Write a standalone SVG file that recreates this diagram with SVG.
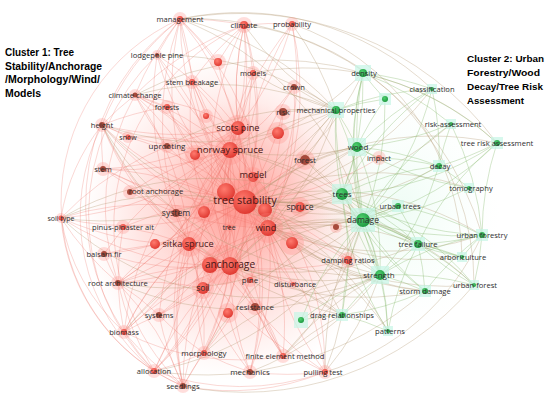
<svg xmlns="http://www.w3.org/2000/svg" width="550" height="396" viewBox="0 0 550 396">
<defs>
<radialGradient id="rg" cx="40%" cy="35%" r="65%"><stop offset="0" stop-color="#ff7a6e"/><stop offset="1" stop-color="#e03a32"/></radialGradient>
<radialGradient id="gg" cx="40%" cy="35%" r="65%"><stop offset="0" stop-color="#4fcf6e"/><stop offset="1" stop-color="#1e9a40"/></radialGradient>
<radialGradient id="bgr" cx="50%" cy="50%" r="50%"><stop offset="0" stop-color="#ff8a80" stop-opacity=".6"/><stop offset=".6" stop-color="#ffa8a0" stop-opacity=".32"/><stop offset="1" stop-color="#ffc8c0" stop-opacity="0"/></radialGradient>
<radialGradient id="bgg" cx="50%" cy="50%" r="50%"><stop offset="0" stop-color="#c8f5dc" stop-opacity=".3"/><stop offset="1" stop-color="#e8fff4" stop-opacity="0"/></radialGradient>
<style>
.er{fill:none;stroke:#ec6c62;stroke-width:.6;stroke-opacity:.45}
.eb{fill:none;stroke:#b0946a;stroke-width:.6;stroke-opacity:.55}
.eg{fill:none;stroke:#86b86c;stroke-width:.6;stroke-opacity:.6}
.nr{fill:url(#rg)}
.nb{fill:#a84a3c}
.ng{fill:url(#gg)}
.hr{fill:#ff8a80;opacity:.28}
.hg{fill:#c6f5e6;opacity:.7}
.l{font-family:"Open Sans","Liberation Sans",sans-serif;fill:#2e2e2e;text-anchor:middle}
.L{font-family:"Open Sans","Liberation Sans",sans-serif;fill:#481616;text-anchor:middle}
.t{font-family:"Liberation Sans",Arial,sans-serif;font-weight:bold;font-size:11px;fill:#000}
.t2{font-family:"Liberation Sans",Arial,sans-serif;font-weight:bold;font-size:9.6px;fill:#000}
</style>
</defs>
<rect width="550" height="396" fill="#fff"/>
<ellipse cx="232" cy="215" rx="150" ry="165" fill="url(#bgr)"/>
<ellipse cx="240" cy="200" rx="90" ry="100" fill="url(#bgr)"/>
<ellipse cx="400" cy="210" rx="100" ry="120" fill="url(#bgg)"/>

<g id="connectors">
<path class="er" d="M245 202A300 300 0 0 1 180 19M245 202A300 300 0 0 0 244 25M245 202A300 300 0 0 1 292 24M245 202A300 300 0 0 1 157 55M245 202A300 300 0 0 0 253 73M245 202A300 300 0 0 1 192 82M245 202A300 300 0 0 0 135 95M245 202A300 300 0 0 1 167 107M245 202A300 300 0 0 1 102 125M245 202A300 300 0 0 0 128 137M245 202A300 300 0 0 1 167 146M245 202A300 300 0 0 1 103 169M245 202A300 300 0 0 0 130 192M245 202A300 300 0 0 1 61 218M245 202A300 300 0 0 0 123 227M245 202A300 300 0 0 1 104 254M245 202A300 300 0 0 0 118 283M245 202A300 300 0 0 1 159 315M245 202A300 300 0 0 0 124 332M245 202A300 300 0 0 1 204 353M245 202A300 300 0 0 1 154 371M245 202A300 300 0 0 0 183 386M245 202A300 300 0 0 1 250 372M245 202A300 300 0 0 0 283 356M245 202A300 300 0 0 1 325 372M245 202A300 300 0 0 0 293 284M245 202A300 300 0 0 1 348 260M245 202A300 300 0 0 0 379 158M245 202A300 300 0 0 1 305 160M245 202A300 300 0 0 0 283 112M245 202A300 300 0 0 1 294 87"/>
<path class="eb" d="M245 202A300 300 0 0 1 336 110M245 202A300 300 0 0 0 363 73M245 202A300 300 0 0 1 357 147M245 202A300 300 0 0 0 342 194M245 202A300 300 0 0 1 363 220M245 202A300 300 0 0 0 398 206M245 202A300 300 0 0 1 418 244M245 202A300 300 0 0 0 380 275M245 202A300 300 0 0 1 342 315M245 202A300 300 0 0 0 425 291M245 202A300 300 0 0 1 388 331M245 202A300 300 0 0 0 439 166M245 202A300 300 0 0 1 469 188M245 202A300 300 0 0 0 432 89M245 202A300 300 0 0 1 482 235M245 202A300 300 0 0 0 462 257M245 202A300 300 0 0 1 497 143M245 202A300 300 0 0 0 451 124M245 202A300 300 0 0 1 474 285"/>
<path class="er" d="M230 266A300 300 0 0 1 180 19M230 266A300 300 0 0 1 244 25M230 266A300 300 0 0 0 157 55M230 266A300 300 0 0 1 192 82M230 266A300 300 0 0 0 135 95M230 266A300 300 0 0 1 102 125M230 266A300 300 0 0 0 103 169M230 266A300 300 0 0 1 61 218M230 266A300 300 0 0 0 123 227M230 266A300 300 0 0 1 104 254M230 266A300 300 0 0 0 118 283M230 266A300 300 0 0 1 159 315M230 266A300 300 0 0 0 124 332M230 266A300 300 0 0 1 204 353M230 266A300 300 0 0 0 154 371M230 266A300 300 0 0 1 183 386M230 266A300 300 0 0 0 250 372M230 266A300 300 0 0 1 283 356M230 266A300 300 0 0 0 325 372M230 266A300 300 0 0 1 293 284M230 266A300 300 0 0 0 348 260M230 266A300 300 0 0 1 238 128M230 266A300 300 0 0 0 230 150M230 266A300 300 0 0 1 189 244M230 266A300 300 0 0 0 203 288M230 266A300 300 0 0 1 255 307M230 266A300 300 0 0 1 305 160M230 266A300 300 0 0 0 283 112M230 266A300 300 0 0 1 253 73M230 266A300 300 0 0 0 292 24"/>
<path class="eb" d="M230 266A300 300 0 0 1 363 220M230 266A300 300 0 0 0 380 275M230 266A300 300 0 0 1 342 315M230 266A300 300 0 0 0 418 244M230 266A300 300 0 0 1 342 194M230 266A300 300 0 0 0 425 291M230 266A300 300 0 0 1 357 147M230 266A300 300 0 0 0 336 110"/>
<path class="er" d="M268 228A300 300 0 0 0 180 19M268 228A300 300 0 0 1 244 25M268 228A300 300 0 0 0 292 24M268 228A300 300 0 0 1 253 73M268 228A300 300 0 0 0 192 82M268 228A300 300 0 0 1 167 107M268 228A300 300 0 0 0 135 95M268 228A300 300 0 0 1 102 125M268 228A300 300 0 0 0 61 218M268 228A300 300 0 0 1 118 283M268 228A300 300 0 0 0 124 332M268 228A300 300 0 0 1 204 353M268 228A300 300 0 0 0 183 386M268 228A300 300 0 0 1 283 356M268 228A300 300 0 0 0 325 372M268 228A300 300 0 0 1 250 372M268 228A300 300 0 0 0 293 284M268 228A300 300 0 0 1 348 260M268 228A300 300 0 0 0 294 87M268 228A300 300 0 0 1 130 192M268 228A300 300 0 0 0 103 169"/>
<path class="eb" d="M268 228A300 300 0 0 1 363 220M268 228A300 300 0 0 0 342 194M268 228A300 300 0 0 1 380 275M268 228A300 300 0 0 0 425 291M268 228A300 300 0 0 1 418 244M268 228A300 300 0 0 0 398 206M268 228A300 300 0 0 1 357 147M268 228A300 300 0 0 0 342 315M268 228A300 300 0 0 1 388 331M268 228A300 300 0 0 0 482 235M268 228A300 300 0 0 1 336 110M268 228A300 300 0 0 0 474 285"/>
<path class="er" d="M230 150A300 300 0 0 1 180 19M230 150A300 300 0 0 0 244 25M230 150A300 300 0 0 1 157 55M230 150A300 300 0 0 0 253 73M230 150A300 300 0 0 1 192 82M230 150A300 300 0 0 0 135 95M230 150A300 300 0 0 1 102 125M230 150A300 300 0 0 0 128 137M230 150A300 300 0 0 1 103 169M230 150A300 300 0 0 0 130 192M230 150A300 300 0 0 1 61 218M230 150A300 300 0 0 0 104 254M230 150A300 300 0 0 1 118 283M230 150A300 300 0 0 0 159 315M230 150A300 300 0 0 1 124 332M230 150A300 300 0 0 0 204 353M230 150A300 300 0 0 1 154 371M230 150A300 300 0 0 0 183 386M230 150A300 300 0 0 1 250 372M230 150A300 300 0 0 0 283 356M230 150A300 300 0 0 1 325 372M230 150A300 300 0 0 0 294 87M230 150A300 300 0 0 1 292 24"/>
<path class="eb" d="M230 150A300 300 0 0 1 336 110M230 150A300 300 0 0 0 357 147M230 150A300 300 0 0 1 363 220M230 150A300 300 0 0 0 363 73M230 150A300 300 0 0 1 342 194"/>
<path class="er" d="M238 128A300 300 0 0 0 180 19M238 128A300 300 0 0 1 244 25M238 128A300 300 0 0 0 157 55M238 128A300 300 0 0 1 218 62M238 128A300 300 0 0 0 135 95M238 128A300 300 0 0 1 102 125M238 128A300 300 0 0 0 61 218M238 128A300 300 0 0 1 118 283M238 128A300 300 0 0 0 124 332M238 128A300 300 0 0 1 154 371M238 128A300 300 0 0 0 183 386M238 128A300 300 0 0 1 204 353M238 128A300 300 0 0 0 292 24M238 128A300 300 0 0 1 103 169"/>
<path class="er" d="M189 244A300 300 0 0 1 180 19M189 244A300 300 0 0 0 244 25M189 244A300 300 0 0 1 157 55M189 244A300 300 0 0 0 135 95M189 244A300 300 0 0 1 102 125M189 244A300 300 0 0 0 103 169M189 244A300 300 0 0 1 61 218M189 244A300 300 0 0 0 104 254M189 244A300 300 0 0 1 118 283M189 244A300 300 0 0 0 124 332M189 244A300 300 0 0 1 154 371M189 244A300 300 0 0 0 183 386M189 244A300 300 0 0 1 204 353M189 244A300 300 0 0 0 250 372M189 244A300 300 0 0 1 283 356M189 244A300 300 0 0 0 325 372"/>
<path class="er" d="M118 283A300 300 0 0 1 61 218M118 283A300 300 0 0 0 124 332M118 283A300 300 0 0 0 154 371M118 283A300 300 0 0 1 183 386M118 283A300 300 0 0 1 159 315M118 283A300 300 0 0 1 203 288M118 283A300 300 0 0 1 104 254M118 283A300 300 0 0 1 123 227M124 332A300 300 0 0 0 154 371M124 332A300 300 0 0 0 183 386M124 332A300 300 0 0 1 159 315M124 332A200 200 0 0 1 61 218M180 19A300 300 0 0 0 157 55M180 19A300 300 0 0 0 135 95M180 19A250 250 0 0 0 102 125M180 19A300 300 0 0 1 244 25M180 19A300 300 0 0 1 218 62M180 19A300 300 0 0 1 192 82M244 25A300 300 0 0 0 218 62M244 25A300 300 0 0 1 253 73M244 25A300 300 0 0 1 292 24M244 25A300 300 0 0 0 192 82M244 25A300 300 0 0 0 135 95M102 125A300 300 0 0 1 128 137M102 125A300 300 0 0 0 103 169M102 125A200 200 0 0 0 61 218M102 125A300 300 0 0 1 135 95M102 125A300 300 0 0 1 167 107M204 353A300 300 0 0 1 154 371M204 353A300 300 0 0 0 183 386M204 353A300 300 0 0 0 250 372M204 353A300 300 0 0 1 159 315M159 315A300 300 0 0 0 183 386M159 315A300 300 0 0 1 203 288M250 372A300 300 0 0 0 325 372M250 372A300 300 0 0 1 228 313M283 356A300 300 0 0 1 255 307M135 95A300 300 0 0 1 167 107M135 95A300 300 0 0 0 167 146M167 146A300 300 0 0 1 195 155M192 82A300 300 0 0 1 206 116"/>
<path class="er" d="M180 19A200 200 0 0 0 183 386M157 55A220 220 0 0 0 154 371M180 19A230 230 0 0 0 124 332M244 25A220 220 0 0 0 183 386M102 125A200 200 0 0 0 154 371M61 218A200 200 0 0 0 183 386M183 386A250 250 0 0 0 325 372M124 332A250 250 0 0 0 283 356M154 371A250 250 0 0 0 325 372M135 95A230 230 0 0 0 118 283"/>
<path class="eb" d="M180 19A300 300 0 0 1 482 235M244 25A260 260 0 0 1 474 285M292 24A250 250 0 0 1 462 257M183 386A300 300 0 0 0 474 285M253 73A280 280 0 0 1 497 143M180 19A320 320 0 0 1 497 143M325 372A250 250 0 0 0 482 235M61 218A300 300 0 0 0 380 275M102 125A350 350 0 0 0 342 315M180 19A280 280 0 0 1 432 89M135 95A300 300 0 0 1 363 73M157 55A300 300 0 0 1 336 110M154 371A330 330 0 0 0 425 291"/>
<path class="eg" d="M363 220A300 300 0 0 1 363 73M363 220A300 300 0 0 0 336 110M363 220A300 300 0 0 1 357 147M363 220A300 300 0 0 0 432 89M363 220A300 300 0 0 1 451 124M363 220A300 300 0 0 0 497 143M363 220A300 300 0 0 1 439 166M363 220A300 300 0 0 0 469 188M363 220A300 300 0 0 1 398 206M363 220A300 300 0 0 0 482 235M363 220A300 300 0 0 1 418 244M363 220A300 300 0 0 0 462 257M363 220A300 300 0 0 1 474 285M363 220A300 300 0 0 0 425 291M363 220A300 300 0 0 1 380 275M363 220A300 300 0 0 0 342 315M363 220A300 300 0 0 1 388 331M363 220A300 300 0 0 0 301 320M363 220A300 300 0 0 1 342 194M363 220A300 300 0 0 0 385 99"/>
<path class="eg" d="M342 194A300 300 0 0 0 363 73M342 194A300 300 0 0 1 336 110M342 194A300 300 0 0 0 357 147M342 194A300 300 0 0 1 432 89M342 194A300 300 0 0 0 497 143M342 194A300 300 0 0 1 439 166M342 194A300 300 0 0 0 482 235M342 194A300 300 0 0 1 418 244M342 194A300 300 0 0 0 462 257M342 194A300 300 0 0 1 474 285M342 194A300 300 0 0 0 425 291M342 194A300 300 0 0 1 380 275M342 194A300 300 0 0 0 388 331M342 194A300 300 0 0 1 342 315"/>
<path class="eg" d="M380 275A300 300 0 0 1 336 110M380 275A300 300 0 0 0 357 147M380 275A300 300 0 0 1 363 73M380 275A300 300 0 0 0 439 166M380 275A300 300 0 0 1 482 235M380 275A300 300 0 0 0 418 244M380 275A300 300 0 0 1 425 291M380 275A300 300 0 0 0 342 315M380 275A300 300 0 0 1 388 331M380 275A300 300 0 0 0 301 320M380 275A300 300 0 0 1 474 285M357 147A300 300 0 0 1 363 73M357 147A300 300 0 0 0 336 110M357 147A300 300 0 0 1 432 89M357 147A300 300 0 0 0 451 124M357 147A300 300 0 0 1 439 166M357 147A300 300 0 0 0 469 188M357 147A300 300 0 0 1 385 99M357 147A300 300 0 0 0 379 158"/>
<path class="eg" d="M482 235A300 300 0 0 0 398 206M482 235A300 300 0 0 1 418 244M482 235A300 300 0 0 0 462 257M482 235A300 300 0 0 1 474 285M482 235A300 300 0 0 0 425 291M482 235A300 300 0 0 1 497 143M482 235A300 300 0 0 0 451 124M418 244A300 300 0 0 1 462 257M418 244A300 300 0 0 0 474 285M418 244A300 300 0 0 1 425 291M418 244A300 300 0 0 0 398 206M418 244A300 300 0 0 1 497 143M418 244A300 300 0 0 0 388 331M439 166A300 300 0 0 0 379 158M439 166A300 300 0 0 1 469 188M439 166A300 300 0 0 0 497 143M439 166A300 300 0 0 1 451 124M439 166A300 300 0 0 0 432 89M342 315A300 300 0 0 0 301 320M342 315A300 300 0 0 1 388 331M342 315A300 300 0 0 0 425 291M363 73A300 300 0 0 1 432 89M363 73A300 300 0 0 1 451 124M363 73A300 300 0 0 1 497 143M363 73A300 300 0 0 0 385 99M336 110A300 300 0 0 1 385 99M336 110A300 300 0 0 1 432 89"/>
<path class="eb" d="M342 315A300 300 0 0 1 293 284M342 315A300 300 0 0 0 283 356M342 315A300 300 0 0 1 325 372M336 110A300 300 0 0 0 180 19M336 110A300 300 0 0 1 244 25M336 110A300 300 0 0 0 292 24M336 110A300 300 0 0 1 253 73M336 110A300 300 0 0 0 135 95M336 110A300 300 0 0 1 102 125M336 110A300 300 0 0 0 167 146M336 110A300 300 0 0 1 61 218M336 110A300 300 0 0 0 283 112M336 110A300 300 0 0 1 294 87M363 220A300 300 0 0 0 180 19M363 220A300 300 0 0 1 102 125M363 220A300 300 0 0 0 61 218M363 220A300 300 0 0 1 118 283M363 220A300 300 0 0 0 124 332M363 220A300 300 0 0 1 154 371M363 220A300 300 0 0 0 204 353M363 220A300 300 0 0 1 283 356M363 220A300 300 0 0 0 325 372M380 275A300 300 0 0 1 102 125M380 275A300 300 0 0 0 61 218M380 275A300 300 0 0 1 118 283M380 275A300 300 0 0 0 204 353M380 275A300 300 0 0 1 325 372M380 275A300 300 0 0 0 283 356M380 275A300 300 0 0 1 250 372M305 160A300 300 0 0 1 357 147M305 160A300 300 0 0 0 336 110M305 160A300 300 0 0 1 363 220M305 160A300 300 0 0 0 342 194"/>
</g>

<g id="n-management"><circle class="hr" cx="180" cy="19" r="7"/><circle class="nr" cx="180" cy="19" r="3"/><text class="l" x="180" y="21.7" font-size="7.6">management</text></g>
<g id="n-climate"><circle class="hr" cx="244" cy="25" r="8"/><circle class="nr" cx="244" cy="25" r="4"/><text class="l" x="244" y="27.8" font-size="8">climate</text></g>
<g id="n-probability"><circle class="hr" cx="292" cy="24" r="7"/><circle class="nr" cx="292" cy="24" r="3"/><text class="l" x="292" y="26.7" font-size="7.6">probability</text></g>
<g id="n-lodgepole-pine"><circle class="hr" cx="157" cy="55" r="5"/><circle class="nb" cx="157" cy="55" r="2"/><text class="l" x="157" y="57.7" font-size="7.6">lodgepole pine</text></g>
<g id="n-u1"><circle class="hr" cx="218" cy="62" r="8"/><circle class="nr" cx="218" cy="62" r="4"/></g>
<g id="n-models"><circle class="hr" cx="253" cy="73" r="7"/><circle class="nr" cx="253" cy="73" r="3"/><text class="l" x="253" y="75.7" font-size="7.6">models</text></g>
<g id="n-stem-breakage"><circle class="hr" cx="192" cy="82" r="7"/><circle class="nr" cx="192" cy="82" r="3"/><text class="l" x="192" y="84.7" font-size="7.6">stem breakage</text></g>
<g id="n-climate-change"><circle class="hr" cx="135" cy="95" r="6"/><circle class="nb" cx="135" cy="95" r="2.5"/><text class="l" x="135" y="97.7" font-size="7.6">climate change</text></g>
<g id="n-forests"><circle class="hr" cx="167" cy="107" r="7"/><circle class="nr" cx="167" cy="107" r="3"/><text class="l" x="167" y="109.7" font-size="7.6">forests</text></g>
<g id="n-u2"><circle class="hr" cx="206" cy="116" r="7"/><circle class="nr" cx="206" cy="116" r="3"/></g>
<g id="n-height"><circle class="hr" cx="102" cy="125" r="7"/><circle class="nb" cx="102" cy="125" r="3"/><text class="l" x="102" y="127.7" font-size="7.6">height</text></g>
<g id="n-snow"><circle class="hr" cx="128" cy="137" r="6"/><circle class="nr" cx="128" cy="137" r="2.5"/><text class="l" x="128" y="139.5" font-size="7">snow</text></g>
<g id="n-uprooting"><circle class="hr" cx="167" cy="146" r="7"/><circle class="nb" cx="167" cy="146" r="3"/><text class="l" x="167" y="148.8" font-size="8">uprooting</text></g>
<g id="n-u3"><circle class="hr" cx="195" cy="155" r="10"/><circle class="nr" cx="195" cy="155" r="5"/></g>
<g id="n-scots-pine"><circle class="hr" cx="238" cy="128" r="13"/><circle class="nr" cx="238" cy="128" r="7"/><text class="L" x="238" y="131.2" font-size="9.2">scots pine</text></g>
<g id="n-norway-spruce"><circle class="hr" cx="230" cy="150" r="15"/><circle class="nr" cx="230" cy="150" r="8"/><text class="L" x="230" y="153.4" font-size="9.7">norway spruce</text></g>
<g id="n-risk"><circle class="hr" cx="283" cy="112" r="8"/><circle class="nb" cx="283" cy="112" r="4"/><text class="l" x="283" y="114.8" font-size="8">risk</text></g>
<g id="n-u4"><circle class="hr" cx="278" cy="133" r="11"/><circle class="nr" cx="278" cy="133" r="6"/></g>
<g id="n-crown"><circle class="hr" cx="294" cy="87" r="7"/><circle class="nb" cx="294" cy="87" r="3"/><text class="l" x="294" y="89.7" font-size="7.6">crown</text></g>
<g id="n-forest"><circle class="hr" cx="305" cy="160" r="10"/><circle class="nb" cx="305" cy="160" r="5"/><text class="l" x="305" y="162.8" font-size="8">forest</text></g>
<g id="n-model"><circle class="hr" cx="253" cy="177" r="10"/><circle class="nr" cx="253" cy="177" r="5"/><text class="L" x="253" y="178.2" font-size="9.2">model</text></g>
<g id="n-tree-stability"><circle class="hr" cx="245" cy="202" r="24"/><circle class="nr" cx="226" cy="192" r="9"/><circle class="nr" cx="265" cy="210" r="7"/><circle class="nr" cx="245" cy="202" r="12"/><text class="L" x="245" y="204" font-size="11">tree stability</text></g>
<g id="n-spruce"><circle class="hr" cx="300" cy="207" r="10"/><circle class="nr" cx="300" cy="207" r="5"/><text class="l" x="300" y="210" font-size="8.6">spruce</text></g>
<g id="n-u5"><circle class="hr" cx="336" cy="227" r="6"/><circle class="nb" cx="336" cy="227" r="3"/></g>
<g id="n-wind"><circle class="hr" cx="268" cy="228" r="15"/><circle class="nr" cx="268" cy="228" r="8"/><text class="L" x="266" y="231.2" font-size="9.2">wind</text></g>
<g id="n-u6"><circle class="hr" cx="292" cy="243" r="12"/><circle class="nr" cx="292" cy="243" r="6"/></g>
<g id="n-tree"><circle class="hr" cx="229" cy="227" r="5"/><circle class="nr" cx="229" cy="227" r="2"/><text class="l" x="229" y="229.5" font-size="7">tree</text></g>
<g id="n-system"><circle class="hr" cx="176" cy="213" r="8"/><circle class="nb" cx="176" cy="213" r="4"/><text class="l" x="176" y="216" font-size="8.6">system</text></g>
<g id="n-u7"><circle class="hr" cx="204" cy="212" r="11"/><circle class="nr" cx="204" cy="212" r="6"/></g>
<g id="n-pinus-pinaster-ait"><circle class="hr" cx="123" cy="227" r="7"/><circle class="nr" cx="123" cy="227" r="3"/><text class="l" x="123" y="229.7" font-size="7.6">pinus-pinaster ait</text></g>
<g id="n-soil-type"><circle class="hr" cx="61" cy="218" r="5"/><circle class="nr" cx="61" cy="218" r="2.5"/><text class="l" x="61" y="220.5" font-size="7">soil type</text></g>
<g id="n-stem"><circle class="hr" cx="103" cy="169" r="7"/><circle class="nb" cx="103" cy="169" r="3"/><text class="l" x="103" y="171.7" font-size="7.6">stem</text></g>
<g id="n-root-anchorage"><circle class="hr" cx="130" cy="192" r="7"/><circle class="nb" cx="130" cy="192" r="3"/><text class="l" x="156" y="193.7" font-size="7.6">root anchorage</text></g>
<g id="n-balsam-fir"><circle class="hr" cx="104" cy="254" r="7"/><circle class="nb" cx="104" cy="254" r="3"/><text class="l" x="104" y="256.7" font-size="7.6">balsam fir</text></g>
<g id="n-sitka-spruce"><circle class="hr" cx="189" cy="244" r="13"/><circle class="nr" cx="155" cy="244" r="5"/><circle class="nr" cx="189" cy="244" r="7"/><text class="L" x="188" y="247.2" font-size="9.2">sitka spruce</text></g>
<g id="n-anchorage"><circle class="hr" cx="222" cy="265" r="20"/><circle class="nr" cx="210" cy="265" r="8"/><circle class="nr" cx="230" cy="266" r="9"/><text class="L" x="230" y="267.7" font-size="10.2">anchorage</text></g>
<g id="n-pine"><circle class="hr" cx="250" cy="280" r="7"/><circle class="nr" cx="250" cy="280" r="3"/><text class="l" x="250" y="282.8" font-size="8">pine</text></g>
<g id="n-soil"><circle class="hr" cx="203" cy="288" r="11"/><circle class="nr" cx="203" cy="288" r="6"/><text class="l" x="203" y="291" font-size="8.6">soil</text></g>
<g id="n-root-architecture"><circle class="hr" cx="118" cy="283" r="7"/><circle class="nb" cx="118" cy="283" r="3"/><text class="l" x="118" y="285.7" font-size="7.6">root architecture</text></g>
<g id="n-u8"><circle class="hr" cx="228" cy="313" r="10"/><circle class="nr" cx="228" cy="313" r="5"/></g>
<g id="n-resistance"><circle class="hr" cx="255" cy="307" r="8"/><circle class="nb" cx="255" cy="307" r="4"/><text class="l" x="255" y="309.8" font-size="8">resistance</text></g>
<g id="n-systems"><circle class="hr" cx="159" cy="315" r="7"/><circle class="nb" cx="159" cy="315" r="3"/><text class="l" x="159" y="317.7" font-size="7.6">systems</text></g>
<g id="n-biomass"><circle class="hr" cx="124" cy="332" r="7"/><circle class="nr" cx="124" cy="332" r="3"/><text class="l" x="124" y="334.7" font-size="7.6">biomass</text></g>
<g id="n-morphology"><circle class="hr" cx="204" cy="353" r="7"/><circle class="nr" cx="204" cy="353" r="3"/><text class="l" x="204" y="355.8" font-size="8">morphology</text></g>
<g id="n-allocation"><circle class="hr" cx="154" cy="371" r="7"/><circle class="nr" cx="154" cy="371" r="3"/><text class="l" x="154" y="373.7" font-size="7.6">allocation</text></g>
<g id="n-seedlings"><circle class="hr" cx="183" cy="386" r="7"/><circle class="nb" cx="183" cy="386" r="3"/><text class="l" x="183" y="388.7" font-size="7.6">seedlings</text></g>
<g id="n-mechanics"><circle class="hr" cx="250" cy="372" r="7"/><circle class="nb" cx="250" cy="372" r="3"/><text class="l" x="250" y="374.8" font-size="8">mechanics</text></g>
<g id="n-finite-element-method"><circle class="hr" cx="283" cy="356" r="7"/><circle class="nr" cx="283" cy="356" r="3"/><text class="l" x="285" y="358.7" font-size="7.6">finite element method</text></g>
<g id="n-pulling-test"><circle class="hr" cx="325" cy="372" r="7"/><circle class="nr" cx="325" cy="372" r="3"/><text class="l" x="323" y="374.7" font-size="7.6">pulling test</text></g>
<g id="n-disturbance"><circle class="hr" cx="293" cy="284" r="5"/><circle class="nr" cx="293" cy="284" r="2"/><text class="l" x="295" y="286.7" font-size="7.6">disturbance</text></g>
<g id="n-damping-ratios"><circle class="hr" cx="348" cy="260" r="8"/><circle class="nr" cx="348" cy="260" r="4"/><text class="l" x="348" y="262.7" font-size="7.6">damping ratios</text></g>
<g id="n-impact"><circle class="hr" cx="379" cy="158" r="7"/><circle fill="#f08a80" cx="379" cy="158" r="3"/><text class="l" x="379" y="160.7" font-size="7.6">impact</text></g>

<g id="n-mechanical-properties"><rect class="hg" x="328" y="102" width="16" height="16"/><circle class="ng" cx="336" cy="110" r="4"/><text class="l" x="336" y="112.7" font-size="7.6">mechanical properties</text></g>
<g id="n-density"><rect class="hg" x="355" y="65" width="16" height="16"/><circle class="ng" cx="363" cy="73" r="4"/><text class="l" x="364" y="75.7" font-size="7.6">density</text></g>
<g id="n-u9"><rect class="hg" x="379" y="93" width="12" height="12"/><circle class="ng" cx="385" cy="99" r="3"/></g>
<g id="n-classification"><rect class="hg" x="427" y="84" width="10" height="10"/><circle class="ng" cx="432" cy="89" r="2"/><text class="l" x="432" y="91.7" font-size="7.6">classification</text></g>
<g id="n-risk-assessment"><rect class="hg" x="446" y="119" width="10" height="10"/><circle class="ng" cx="451" cy="124" r="2"/><text class="l" x="453" y="126.7" font-size="7.6">risk-assessment</text></g>
<g id="n-tree-risk-assessment"><rect class="hg" x="491" y="137" width="12" height="12"/><circle class="ng" cx="497" cy="143" r="3"/><text class="l" x="497" y="145.7" font-size="7.6">tree risk assessment</text></g>
<g id="n-wood"><rect class="hg" x="348" y="138" width="18" height="18"/><circle class="ng" cx="357" cy="147" r="5"/><text class="l" x="358" y="149.8" font-size="8">wood</text></g>
<g id="n-decay"><rect class="hg" x="433" y="160" width="12" height="12"/><circle class="ng" cx="439" cy="166" r="3"/><text class="l" x="440" y="168.7" font-size="7.6">decay</text></g>
<g id="n-tomography"><rect class="hg" x="464" y="183" width="10" height="10"/><circle class="ng" cx="469" cy="188" r="2"/><text class="l" x="471" y="190.7" font-size="7.6">tomography</text></g>
<g id="n-trees"><rect class="hg" x="332" y="184" width="20" height="20"/><circle class="ng" cx="342" cy="194" r="6"/><text class="l" x="342" y="196.8" font-size="8">trees</text></g>
<g id="n-damage"><rect class="hg" x="351" y="208" width="24" height="24"/><circle class="ng" cx="363" cy="220" r="7"/><text class="l" x="363" y="223" font-size="8.6">damage</text></g>
<g id="n-urban-trees"><rect class="hg" x="392" y="200" width="12" height="12"/><circle class="ng" cx="398" cy="206" r="3"/><text class="l" x="400" y="208.7" font-size="7.6">urban trees</text></g>
<g id="n-urban-forestry"><rect class="hg" x="476" y="229" width="12" height="12"/><circle class="ng" cx="482" cy="235" r="3"/><text class="l" x="482" y="237.7" font-size="7.6">urban forestry</text></g>
<g id="n-tree-failure"><rect class="hg" x="411" y="237" width="14" height="14"/><circle class="ng" cx="418" cy="244" r="4"/><text class="l" x="418" y="246.7" font-size="7.6">tree failure</text></g>
<g id="n-arboriculture"><rect class="hg" x="457" y="252" width="10" height="10"/><circle class="ng" cx="462" cy="257" r="2"/><text class="l" x="463" y="259.7" font-size="7.6">arboriculture</text></g>
<g id="n-urban-forest"><rect class="hg" x="469" y="280" width="10" height="10"/><circle class="ng" cx="474" cy="285" r="2"/><text class="l" x="475" y="287.7" font-size="7.6">urban forest</text></g>
<g id="n-storm-damage"><rect class="hg" x="419" y="285" width="12" height="12"/><circle class="ng" cx="425" cy="291" r="3"/><text class="l" x="425" y="293.7" font-size="7.6">storm damage</text></g>
<g id="n-strength"><rect class="hg" x="371" y="266" width="18" height="18"/><circle class="ng" cx="380" cy="275" r="5"/><text class="l" x="379" y="277.8" font-size="8">strength</text></g>
<g id="n-drag-relationships"><rect class="hg" x="336" y="309" width="12" height="12"/><circle class="ng" cx="342" cy="315" r="3"/><text class="l" x="342" y="317.7" font-size="7.6">drag relationships</text></g>
<g id="n-u10"><rect class="hg" x="294" y="312" width="14" height="16"/><circle class="ng" cx="301" cy="320" r="3"/></g>
<g id="n-patterns"><rect class="hg" x="383" y="326" width="10" height="10"/><circle class="ng" cx="388" cy="331" r="2"/><text class="l" x="390" y="333.7" font-size="7.6">patterns</text></g>

<g id="titles">
<text class="t" x="5" y="56" textLength="69" lengthAdjust="spacingAndGlyphs">Cluster 1: Tree</text>
<text class="t" x="5" y="69.7" textLength="97" lengthAdjust="spacingAndGlyphs">Stability/Anchorage</text>
<text class="t" x="5" y="83.4" textLength="95" lengthAdjust="spacingAndGlyphs">/Morphology/Wind/</text>
<text class="t" x="5" y="97" textLength="36" lengthAdjust="spacingAndGlyphs">Models</text>
<text class="t2" x="467" y="62" textLength="77" lengthAdjust="spacingAndGlyphs">Cluster 2: Urban</text>
<text class="t2" x="467" y="76" textLength="73" lengthAdjust="spacingAndGlyphs">Forestry/Wood</text>
<text class="t2" x="467" y="90" textLength="76" lengthAdjust="spacingAndGlyphs">Decay/Tree Risk</text>
<text class="t2" x="467" y="103.5" textLength="57" lengthAdjust="spacingAndGlyphs">Assessment</text>
</g>
</svg>
